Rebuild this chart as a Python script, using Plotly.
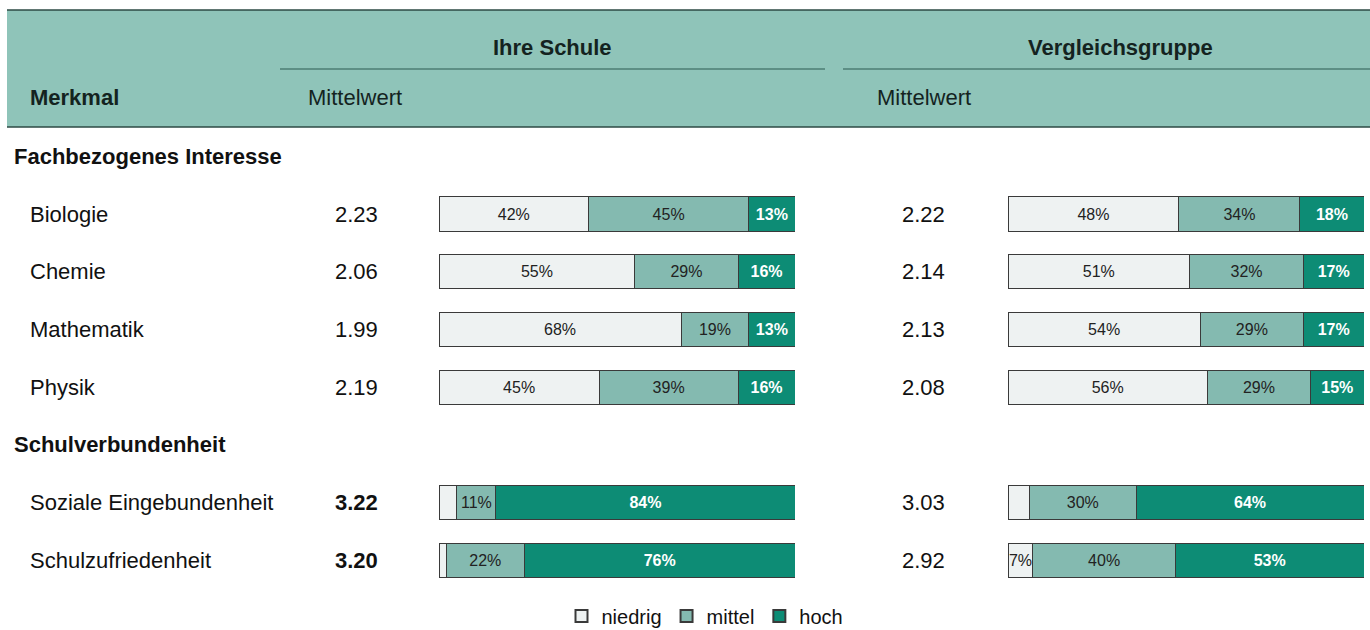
import plotly.graph_objects as go

# rows of the table (section titles take a row slot of their own)
rows = ["Fachbezogenes Interesse", "Biologie", "Chemie", "Mathematik", "Physik",
        "Schulverbundenheit", "Soziale Eingebundenheit", "Schulzufriedenheit"]
sections = ["Fachbezogenes Interesse", "Schulverbundenheit"]
items = ["Biologie", "Chemie", "Mathematik", "Physik",
         "Soziale Eingebundenheit", "Schulzufriedenheit"]

schule_mean = ["2.23", "2.06", "1.99", "2.19", "3.22", "3.20"]
schule_bold = [False, False, False, False, True, True]
schule_niedrig = [42, 55, 68, 45, 5, 2]
schule_mittel = [45, 29, 19, 39, 11, 22]
schule_hoch = [13, 16, 13, 16, 84, 76]

vergl_mean = ["2.22", "2.14", "2.13", "2.08", "3.03", "2.92"]
vergl_niedrig = [48, 51, 54, 56, 6, 7]
vergl_mittel = [34, 32, 29, 29, 30, 40]
vergl_hoch = [18, 17, 17, 15, 64, 53]

levels = ["niedrig", "mittel", "hoch"]
colors = {"niedrig": "#eef2f2", "mittel": "#84bab0", "hoch": "#0d8c75"}
text_col = {"niedrig": "#222222", "mittel": "#222222", "hoch": "#ffffff"}

W, H = 1370, 630
FONT = "Liberation Sans, Arial, sans-serif"
ypos = [rows.index(n) for n in items]


def px(x):
    return x / W


def py(y):
    return 1 - y / H


fig = go.Figure()
for axis, data in (("x", [schule_niedrig, schule_mittel, schule_hoch]),
                   ("x2", [vergl_niedrig, vergl_mittel, vergl_hoch])):
    for lvl, vals in zip(levels, data):
        fmt = "<b>{}%</b>" if lvl == "hoch" else "{}%"
        fig.add_trace(go.Bar(
            x=vals, y=ypos, orientation="h", xaxis=axis, yaxis="y",
            name=lvl, legendgroup=lvl, showlegend=(axis == "x"),
            marker=dict(color=colors[lvl], line=dict(color="#3a3a3a", width=1)),
            text=[fmt.format(v) if v >= 7 else "" for v in vals],
            textposition="inside", insidetextanchor="middle", textangle=0,
            textfont=dict(color=text_col[lvl], size=16, family=FONT),
            hoverinfo="skip",
        ))

ann = []
# header band texts
ann.append(dict(text="<b>Ihre Schule</b>", x=px(552), y=py(48), xanchor="center"))
ann.append(dict(text="<b>Vergleichsgruppe</b>", x=px(1120), y=py(48), xanchor="center"))
ann.append(dict(text="<b>Merkmal</b>", x=px(28), y=py(97), xanchor="left"))
ann.append(dict(text="Mittelwert", x=px(306), y=py(97), xanchor="left"))
ann.append(dict(text="Mittelwert", x=px(875), y=py(97), xanchor="left"))
for a in ann:
    a.update(xref="paper", yref="paper", yanchor="middle", showarrow=False,
             font=dict(size=22, color="#14231f", family=FONT))

for s in sections:
    ann.append(dict(text=f"<b>{s}</b>", x=px(12), y=rows.index(s), xref="paper", yref="y",
                    xanchor="left", yanchor="middle", showarrow=False,
                    font=dict(size=22, color="#111111", family=FONT)))
for i, name in enumerate(items):
    common = dict(yref="y", y=ypos[i], xref="paper", yanchor="middle", showarrow=False,
                  font=dict(size=22, color="#111111", family=FONT))
    ann.append(dict(text=name, x=px(28), xanchor="left", **common))
    m = schule_mean[i]
    ann.append(dict(text=f"<b>{m}</b>" if schule_bold[i] else m, x=px(380), xanchor="right", **common))
    ann.append(dict(text=vergl_mean[i], x=px(947), xanchor="right", **common))

shapes = [
    dict(type="rect", xref="paper", yref="paper", x0=px(7), x1=1, y0=py(127), y1=py(10),
         fillcolor="#8fc4b9", line=dict(width=0), layer="below"),
    dict(type="line", xref="paper", yref="paper", x0=px(7), x1=1, y0=py(10), y1=py(10),
         line=dict(color="#2d4a44", width=1.5)),
    dict(type="line", xref="paper", yref="paper", x0=px(7), x1=1, y0=py(127), y1=py(127),
         line=dict(color="#2d4a44", width=1.5)),
    dict(type="line", xref="paper", yref="paper", x0=px(280), x1=px(825), y0=py(69), y1=py(69),
         line=dict(color="#2d5a52", width=1.2)),
    dict(type="line", xref="paper", yref="paper", x0=px(843), x1=1, y0=py(69), y1=py(69),
         line=dict(color="#2d5a52", width=1.2)),
]

slot_top, slot_h = 127.5, 57.67
slot_bot = slot_top + slot_h * len(rows)
fig.update_layout(
    width=W, height=H,
    margin=dict(l=0, r=0, t=0, b=0, autoexpand=False),
    paper_bgcolor="#ffffff", plot_bgcolor="rgba(0,0,0,0)",
    barmode="stack", bargap=0.41,
    font=dict(family=FONT, color="#111111"),
    xaxis=dict(domain=[px(439), px(795)], range=[0, 100], visible=False, fixedrange=True),
    xaxis2=dict(domain=[px(1008), px(1364)], range=[0, 100], visible=False,
                anchor="y", fixedrange=True),
    yaxis=dict(domain=[py(slot_bot), py(slot_top)], range=[len(rows) - 0.5, -0.5],
               visible=False, fixedrange=True),
    uniformtext=dict(mode="show", minsize=16),
    legend=dict(orientation="h", x=px(705), xanchor="center", y=py(616), yanchor="middle",
                font=dict(size=20, color="#111111", family=FONT),
                itemsizing="constant", traceorder="normal", bgcolor="rgba(0,0,0,0)"),
    annotations=ann,
    shapes=shapes,
)

# drop the default 8px page margin so the figure fills the window exactly
fig.write_html("out.html", config={"displayModeBar": False},
               post_script="document.body.style.margin='0';")
